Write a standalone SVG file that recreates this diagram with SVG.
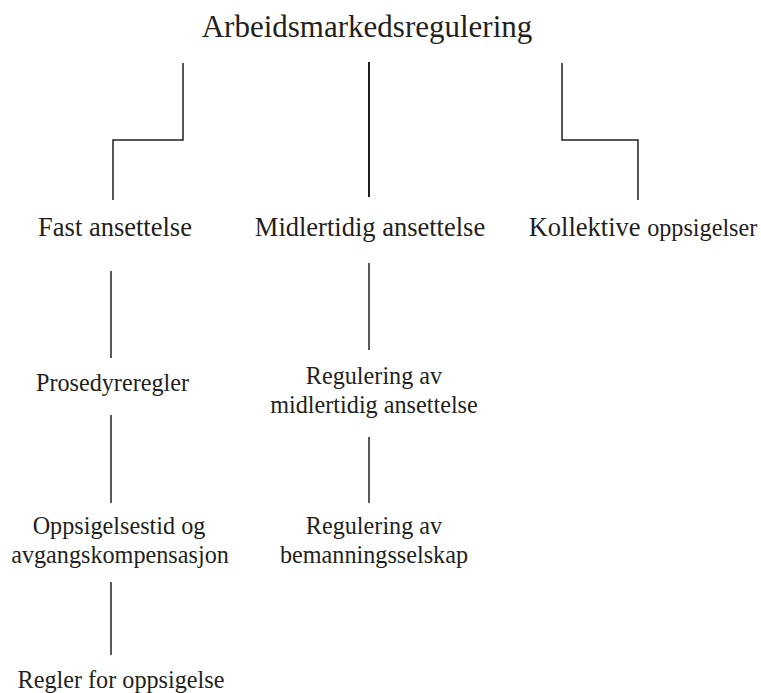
<svg xmlns="http://www.w3.org/2000/svg" width="761" height="693" viewBox="0 0 761 693">
  <style>
    .t { font-family: "Liberation Serif", "Times New Roman", serif; fill: #231f20; text-anchor: middle; }
    .h0 { font-size: 31px; }
    .h1 { font-size: 26.5px; }
    .h2 { font-size: 24.2px; }
    .c { fill: none; stroke: #231f20; stroke-width: 1.5; }
    .c2 { stroke-width: 2; }
  </style>
  <rect width="761" height="693" fill="#ffffff"/>

  <!-- connectors -->
  <g id="connectors">
    <polyline class="c" points="183,63 183,140 113,140 113,200"/>
    <line class="c c2" x1="369" y1="62" x2="369" y2="197"/>
    <polyline class="c" points="562,63 562,140 638,140 638,200"/>
    <line class="c" x1="111" y1="271" x2="111" y2="358"/>
    <line class="c" x1="111" y1="415" x2="111" y2="503"/>
    <line class="c" x1="111" y1="582" x2="111" y2="655"/>
    <line class="c" x1="369" y1="263" x2="369" y2="350"/>
    <line class="c" x1="369" y1="437" x2="369" y2="503"/>
  </g>

  <!-- nodes -->
  <g id="root">
    <text class="t h0" x="367" y="37">Arbeidsmarkedsregulering</text>
  </g>
  <g id="fast">
    <text class="t h1" x="115" y="236">Fast ansettelse</text>
  </g>
  <g id="midlertidig">
    <text class="t h1" x="370" y="236">Midlertidig ansettelse</text>
  </g>
  <g id="kollektive">
    <text class="t h1" x="643" y="236">Kollektive <tspan class="h2">oppsigelser</tspan></text>
  </g>
  <g id="prosedyre">
    <text class="t h2" x="112.5" y="391">Prosedyreregler</text>
  </g>
  <g id="oppsigelsestid">
    <text class="t h2" x="119" y="534">Oppsigelsestid og</text>
    <text class="t h2" x="120" y="563">avgangskompensasjon</text>
  </g>
  <g id="regler">
    <text class="t h2" x="121" y="688">Regler for oppsigelse</text>
  </g>
  <g id="reg-midlertidig">
    <text class="t h2" x="374" y="384">Regulering av</text>
    <text class="t h2" x="374" y="413">midlertidig ansettelse</text>
  </g>
  <g id="reg-bemanning">
    <text class="t h2" x="374" y="534">Regulering av</text>
    <text class="t h2" x="374" y="563">bemanningsselskap</text>
  </g>
</svg>
